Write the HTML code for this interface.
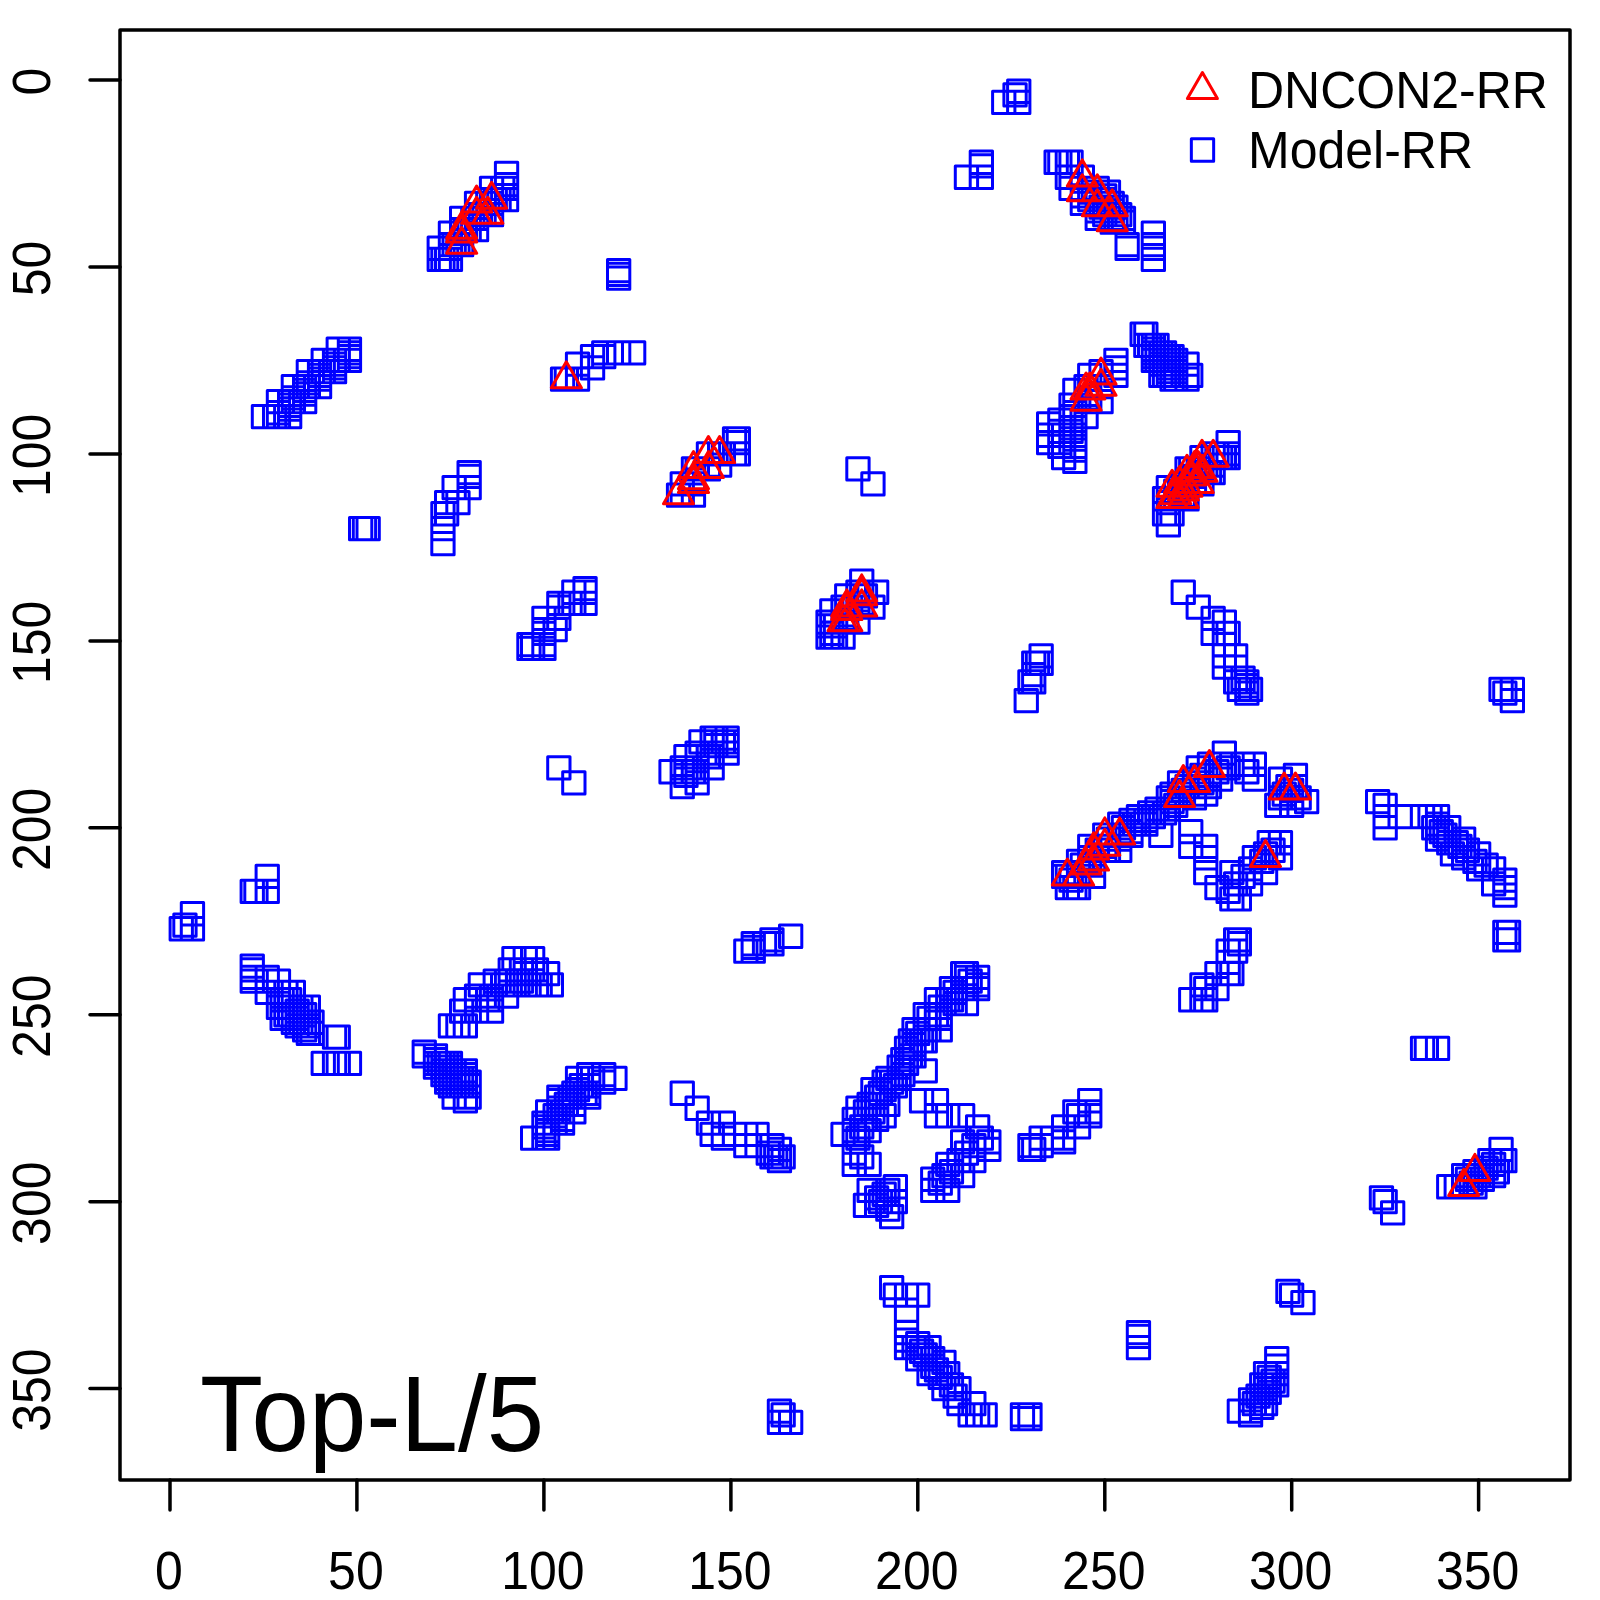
<!DOCTYPE html>
<html><head><meta charset="utf-8"><style>
html,body{margin:0;padding:0;background:#fff;width:1600px;height:1600px;overflow:hidden}
svg{display:block}
text{font-family:"Liberation Sans",sans-serif}
</style></head><body>
<svg width="1600" height="1600" viewBox="0 0 1600 1600">
<rect width="1600" height="1600" fill="#fff"/>
<g fill="none" stroke="#0000ff" stroke-width="3.0" stroke-linejoin="round">
<path d="M252.3 405.4h22.3v22.3h-22.3zM263.5 405.4h22.3v22.3h-22.3zM267.3 405.4h22.3v22.3h-22.3zM278.5 405.4h22.3v22.3h-22.3zM267.3 390.4h22.3v22.3h-22.3zM278.5 390.4h22.3v22.3h-22.3zM282.2 390.4h22.3v22.3h-22.3zM293.5 390.4h22.3v22.3h-22.3zM278.5 394.1h22.3v22.3h-22.3zM278.5 397.9h22.3v22.3h-22.3zM267.3 401.6h22.3v22.3h-22.3zM282.2 375.4h22.3v22.3h-22.3zM293.5 375.4h22.3v22.3h-22.3zM297.2 375.4h22.3v22.3h-22.3zM308.4 375.4h22.3v22.3h-22.3zM293.5 379.2h22.3v22.3h-22.3zM293.5 382.9h22.3v22.3h-22.3zM282.2 386.7h22.3v22.3h-22.3zM297.2 360.5h22.3v22.3h-22.3zM308.4 360.5h22.3v22.3h-22.3zM312.1 360.5h22.3v22.3h-22.3zM323.4 360.5h22.3v22.3h-22.3zM308.4 364.2h22.3v22.3h-22.3zM308.4 368.0h22.3v22.3h-22.3zM297.2 371.7h22.3v22.3h-22.3zM312.1 349.3h22.3v22.3h-22.3zM323.4 349.3h22.3v22.3h-22.3zM327.1 349.3h22.3v22.3h-22.3zM338.3 349.3h22.3v22.3h-22.3zM323.4 353.0h22.3v22.3h-22.3zM323.4 356.8h22.3v22.3h-22.3zM327.1 338.1h22.3v22.3h-22.3zM338.3 338.1h22.3v22.3h-22.3zM338.3 341.8h22.3v22.3h-22.3zM338.3 345.5h22.3v22.3h-22.3zM349.5 517.5h22.3v22.3h-22.3zM353.3 517.5h22.3v22.3h-22.3zM357.0 517.5h22.3v22.3h-22.3zM458.0 461.4h22.3v22.3h-22.3zM458.0 465.2h22.3v22.3h-22.3zM458.0 476.4h22.3v22.3h-22.3zM443.0 476.4h22.3v22.3h-22.3zM446.8 491.4h22.3v22.3h-22.3zM435.5 491.4h22.3v22.3h-22.3zM435.5 502.6h22.3v22.3h-22.3zM431.8 502.6h22.3v22.3h-22.3zM431.8 517.5h22.3v22.3h-22.3zM431.8 532.5h22.3v22.3h-22.3zM558.9 592.3h22.3v22.3h-22.3zM547.7 596.0h22.3v22.3h-22.3zM573.9 577.4h22.3v22.3h-22.3zM573.9 581.1h22.3v22.3h-22.3zM573.9 592.3h22.3v22.3h-22.3zM562.7 581.1h22.3v22.3h-22.3zM562.7 592.3h22.3v22.3h-22.3zM547.7 592.3h22.3v22.3h-22.3zM547.7 607.3h22.3v22.3h-22.3zM544.0 618.5h22.3v22.3h-22.3zM532.8 607.3h22.3v22.3h-22.3zM532.8 618.5h22.3v22.3h-22.3zM532.8 622.2h22.3v22.3h-22.3zM532.8 633.4h22.3v22.3h-22.3zM532.8 637.2h22.3v22.3h-22.3zM517.8 633.4h22.3v22.3h-22.3zM517.8 637.2h22.3v22.3h-22.3zM521.5 633.4h22.3v22.3h-22.3zM521.5 637.2h22.3v22.3h-22.3zM547.7 756.8h22.3v22.3h-22.3zM562.7 771.8h22.3v22.3h-22.3zM701.0 726.9h22.3v22.3h-22.3zM716.0 726.9h22.3v22.3h-22.3zM704.7 726.9h22.3v22.3h-22.3zM689.8 730.7h22.3v22.3h-22.3zM701.0 730.7h22.3v22.3h-22.3zM712.2 730.7h22.3v22.3h-22.3zM716.0 730.7h22.3v22.3h-22.3zM704.7 734.4h22.3v22.3h-22.3zM716.0 734.4h22.3v22.3h-22.3zM686.0 741.9h22.3v22.3h-22.3zM701.0 741.9h22.3v22.3h-22.3zM716.0 741.9h22.3v22.3h-22.3zM674.8 745.6h22.3v22.3h-22.3zM686.0 745.6h22.3v22.3h-22.3zM697.3 745.6h22.3v22.3h-22.3zM701.0 745.6h22.3v22.3h-22.3zM671.1 756.8h22.3v22.3h-22.3zM686.0 756.8h22.3v22.3h-22.3zM701.0 756.8h22.3v22.3h-22.3zM659.9 760.6h22.3v22.3h-22.3zM671.1 760.6h22.3v22.3h-22.3zM682.3 760.6h22.3v22.3h-22.3zM686.0 760.6h22.3v22.3h-22.3zM674.8 764.3h22.3v22.3h-22.3zM686.0 771.8h22.3v22.3h-22.3zM671.1 775.5h22.3v22.3h-22.3zM170.1 917.6h22.3v22.3h-22.3zM173.8 913.9h22.3v22.3h-22.3zM181.3 902.6h22.3v22.3h-22.3zM181.3 917.6h22.3v22.3h-22.3zM256.1 865.3h22.3v22.3h-22.3zM241.1 880.2h22.3v22.3h-22.3zM244.8 880.2h22.3v22.3h-22.3zM256.1 880.2h22.3v22.3h-22.3zM241.1 955.0h22.3v22.3h-22.3zM241.1 958.7h22.3v22.3h-22.3zM241.1 966.2h22.3v22.3h-22.3zM241.1 969.9h22.3v22.3h-22.3zM256.1 966.2h22.3v22.3h-22.3zM256.1 969.9h22.3v22.3h-22.3zM256.1 981.2h22.3v22.3h-22.3zM267.3 969.9h22.3v22.3h-22.3zM267.3 981.2h22.3v22.3h-22.3zM267.3 996.1h22.3v22.3h-22.3zM271.0 996.1h22.3v22.3h-22.3zM271.0 1007.3h22.3v22.3h-22.3zM282.2 981.2h22.3v22.3h-22.3zM282.2 996.1h22.3v22.3h-22.3zM282.2 1011.1h22.3v22.3h-22.3zM297.2 996.1h22.3v22.3h-22.3zM297.2 1011.1h22.3v22.3h-22.3zM297.2 1022.3h22.3v22.3h-22.3zM300.9 1011.1h22.3v22.3h-22.3zM300.9 1022.3h22.3v22.3h-22.3zM286.0 1007.3h22.3v22.3h-22.3zM286.0 999.9h22.3v22.3h-22.3zM323.4 1026.0h22.3v22.3h-22.3zM327.1 1026.0h22.3v22.3h-22.3zM312.1 1052.2h22.3v22.3h-22.3zM323.4 1052.2h22.3v22.3h-22.3zM327.1 1052.2h22.3v22.3h-22.3zM338.3 1052.2h22.3v22.3h-22.3zM274.8 981.2h22.3v22.3h-22.3zM271.0 988.6h22.3v22.3h-22.3zM278.5 988.6h22.3v22.3h-22.3zM274.8 996.1h22.3v22.3h-22.3zM289.7 996.1h22.3v22.3h-22.3zM278.5 1003.6h22.3v22.3h-22.3zM286.0 1003.6h22.3v22.3h-22.3zM293.5 1003.6h22.3v22.3h-22.3zM289.7 1011.1h22.3v22.3h-22.3zM293.5 1018.6h22.3v22.3h-22.3zM297.2 1014.8h22.3v22.3h-22.3zM293.5 1011.1h22.3v22.3h-22.3zM286.0 1014.8h22.3v22.3h-22.3zM274.8 1003.6h22.3v22.3h-22.3zM502.8 947.5h22.3v22.3h-22.3zM514.1 947.5h22.3v22.3h-22.3zM521.5 947.5h22.3v22.3h-22.3zM499.1 958.7h22.3v22.3h-22.3zM510.3 958.7h22.3v22.3h-22.3zM521.5 958.7h22.3v22.3h-22.3zM525.3 958.7h22.3v22.3h-22.3zM514.1 962.5h22.3v22.3h-22.3zM525.3 962.5h22.3v22.3h-22.3zM536.5 962.5h22.3v22.3h-22.3zM484.1 969.9h22.3v22.3h-22.3zM495.4 969.9h22.3v22.3h-22.3zM506.6 969.9h22.3v22.3h-22.3zM510.3 969.9h22.3v22.3h-22.3zM469.2 973.7h22.3v22.3h-22.3zM484.1 973.7h22.3v22.3h-22.3zM499.1 973.7h22.3v22.3h-22.3zM514.1 973.7h22.3v22.3h-22.3zM529.0 973.7h22.3v22.3h-22.3zM540.2 973.7h22.3v22.3h-22.3zM525.3 973.7h22.3v22.3h-22.3zM465.4 984.9h22.3v22.3h-22.3zM480.4 984.9h22.3v22.3h-22.3zM495.4 984.9h22.3v22.3h-22.3zM454.2 988.6h22.3v22.3h-22.3zM465.4 988.6h22.3v22.3h-22.3zM476.7 988.6h22.3v22.3h-22.3zM480.4 988.6h22.3v22.3h-22.3zM450.5 999.9h22.3v22.3h-22.3zM465.4 999.9h22.3v22.3h-22.3zM480.4 999.9h22.3v22.3h-22.3zM439.3 1014.8h22.3v22.3h-22.3zM446.8 1014.8h22.3v22.3h-22.3zM454.2 1014.8h22.3v22.3h-22.3zM413.1 1041.0h22.3v22.3h-22.3zM413.1 1044.7h22.3v22.3h-22.3zM424.3 1044.7h22.3v22.3h-22.3zM424.3 1048.5h22.3v22.3h-22.3zM424.3 1052.2h22.3v22.3h-22.3zM428.1 1052.2h22.3v22.3h-22.3zM431.8 1052.2h22.3v22.3h-22.3zM435.5 1052.2h22.3v22.3h-22.3zM439.3 1052.2h22.3v22.3h-22.3zM424.3 1055.9h22.3v22.3h-22.3zM431.8 1055.9h22.3v22.3h-22.3zM439.3 1055.9h22.3v22.3h-22.3zM431.8 1059.7h22.3v22.3h-22.3zM435.5 1059.7h22.3v22.3h-22.3zM439.3 1059.7h22.3v22.3h-22.3zM443.0 1059.7h22.3v22.3h-22.3zM454.2 1059.7h22.3v22.3h-22.3zM431.8 1063.4h22.3v22.3h-22.3zM435.5 1063.4h22.3v22.3h-22.3zM439.3 1063.4h22.3v22.3h-22.3zM443.0 1063.4h22.3v22.3h-22.3zM454.2 1063.4h22.3v22.3h-22.3zM435.5 1067.2h22.3v22.3h-22.3zM439.3 1067.2h22.3v22.3h-22.3zM443.0 1067.2h22.3v22.3h-22.3zM446.8 1067.2h22.3v22.3h-22.3zM450.5 1067.2h22.3v22.3h-22.3zM454.2 1067.2h22.3v22.3h-22.3zM435.5 1070.9h22.3v22.3h-22.3zM443.0 1070.9h22.3v22.3h-22.3zM450.5 1070.9h22.3v22.3h-22.3zM458.0 1070.9h22.3v22.3h-22.3zM439.3 1074.6h22.3v22.3h-22.3zM443.0 1074.6h22.3v22.3h-22.3zM446.8 1074.6h22.3v22.3h-22.3zM450.5 1074.6h22.3v22.3h-22.3zM454.2 1074.6h22.3v22.3h-22.3zM458.0 1074.6h22.3v22.3h-22.3zM443.0 1085.9h22.3v22.3h-22.3zM458.0 1085.9h22.3v22.3h-22.3zM454.2 1089.6h22.3v22.3h-22.3zM521.5 1127.0h22.3v22.3h-22.3zM532.8 1127.0h22.3v22.3h-22.3zM536.5 1127.0h22.3v22.3h-22.3zM532.8 1112.0h22.3v22.3h-22.3zM532.8 1115.8h22.3v22.3h-22.3zM544.0 1112.0h22.3v22.3h-22.3zM551.4 1112.0h22.3v22.3h-22.3zM536.5 1123.2h22.3v22.3h-22.3zM536.5 1119.5h22.3v22.3h-22.3zM536.5 1100.8h22.3v22.3h-22.3zM547.7 1100.8h22.3v22.3h-22.3zM551.4 1100.8h22.3v22.3h-22.3zM562.7 1100.8h22.3v22.3h-22.3zM551.4 1108.3h22.3v22.3h-22.3zM544.0 1104.6h22.3v22.3h-22.3zM547.7 1085.9h22.3v22.3h-22.3zM547.7 1089.6h22.3v22.3h-22.3zM558.9 1085.9h22.3v22.3h-22.3zM562.7 1085.9h22.3v22.3h-22.3zM577.6 1085.9h22.3v22.3h-22.3zM547.7 1097.1h22.3v22.3h-22.3zM555.2 1093.3h22.3v22.3h-22.3zM562.7 1093.3h22.3v22.3h-22.3zM562.7 1082.1h22.3v22.3h-22.3zM573.9 1082.1h22.3v22.3h-22.3zM577.6 1082.1h22.3v22.3h-22.3zM570.1 1074.6h22.3v22.3h-22.3zM577.6 1074.6h22.3v22.3h-22.3zM566.4 1067.2h22.3v22.3h-22.3zM577.6 1067.2h22.3v22.3h-22.3zM581.4 1067.2h22.3v22.3h-22.3zM592.6 1067.2h22.3v22.3h-22.3zM566.4 1078.4h22.3v22.3h-22.3zM577.6 1063.4h22.3v22.3h-22.3zM592.6 1063.4h22.3v22.3h-22.3zM592.6 1070.9h22.3v22.3h-22.3zM603.8 1067.2h22.3v22.3h-22.3zM779.5 925.1h22.3v22.3h-22.3zM760.8 928.8h22.3v22.3h-22.3zM760.8 932.6h22.3v22.3h-22.3zM753.4 932.6h22.3v22.3h-22.3zM742.1 932.6h22.3v22.3h-22.3zM742.1 936.3h22.3v22.3h-22.3zM742.1 940.0h22.3v22.3h-22.3zM734.7 940.0h22.3v22.3h-22.3zM671.1 1082.1h22.3v22.3h-22.3zM686.0 1097.1h22.3v22.3h-22.3zM697.3 1112.0h22.3v22.3h-22.3zM712.2 1112.0h22.3v22.3h-22.3zM701.0 1123.2h22.3v22.3h-22.3zM712.2 1127.0h22.3v22.3h-22.3zM723.4 1123.2h22.3v22.3h-22.3zM734.7 1123.2h22.3v22.3h-22.3zM745.9 1123.2h22.3v22.3h-22.3zM734.7 1134.5h22.3v22.3h-22.3zM745.9 1134.5h22.3v22.3h-22.3zM757.1 1141.9h22.3v22.3h-22.3zM760.8 1134.5h22.3v22.3h-22.3zM768.3 1138.2h22.3v22.3h-22.3zM772.0 1145.7h22.3v22.3h-22.3zM768.3 1149.4h22.3v22.3h-22.3zM760.8 1141.9h22.3v22.3h-22.3zM764.6 1145.7h22.3v22.3h-22.3zM760.8 1145.7h22.3v22.3h-22.3zM951.5 962.5h22.3v22.3h-22.3zM955.3 962.5h22.3v22.3h-22.3zM966.5 966.2h22.3v22.3h-22.3zM955.3 966.2h22.3v22.3h-22.3zM966.5 973.7h22.3v22.3h-22.3zM940.3 977.4h22.3v22.3h-22.3zM951.5 977.4h22.3v22.3h-22.3zM955.3 977.4h22.3v22.3h-22.3zM966.5 977.4h22.3v22.3h-22.3zM955.3 992.4h22.3v22.3h-22.3zM944.0 981.2h22.3v22.3h-22.3zM959.0 969.9h22.3v22.3h-22.3zM925.3 988.6h22.3v22.3h-22.3zM936.6 988.6h22.3v22.3h-22.3zM940.3 988.6h22.3v22.3h-22.3zM929.1 996.1h22.3v22.3h-22.3zM944.0 992.4h22.3v22.3h-22.3zM914.1 1003.6h22.3v22.3h-22.3zM925.3 1003.6h22.3v22.3h-22.3zM929.1 1003.6h22.3v22.3h-22.3zM929.1 1007.3h22.3v22.3h-22.3zM917.9 1007.3h22.3v22.3h-22.3zM929.1 1018.6h22.3v22.3h-22.3zM902.9 1018.6h22.3v22.3h-22.3zM914.1 1018.6h22.3v22.3h-22.3zM917.9 1018.6h22.3v22.3h-22.3zM906.6 1022.3h22.3v22.3h-22.3zM899.2 1029.8h22.3v22.3h-22.3zM910.4 1029.8h22.3v22.3h-22.3zM914.1 1029.8h22.3v22.3h-22.3zM895.4 1037.3h22.3v22.3h-22.3zM902.9 1033.5h22.3v22.3h-22.3zM888.0 1055.9h22.3v22.3h-22.3zM891.7 1048.5h22.3v22.3h-22.3zM899.2 1044.7h22.3v22.3h-22.3zM895.4 1052.2h22.3v22.3h-22.3zM876.7 1067.2h22.3v22.3h-22.3zM888.0 1067.2h22.3v22.3h-22.3zM891.7 1063.4h22.3v22.3h-22.3zM884.2 1074.6h22.3v22.3h-22.3zM880.5 1070.9h22.3v22.3h-22.3zM873.0 1070.9h22.3v22.3h-22.3zM861.8 1078.4h22.3v22.3h-22.3zM873.0 1078.4h22.3v22.3h-22.3zM865.5 1085.9h22.3v22.3h-22.3zM869.3 1082.1h22.3v22.3h-22.3zM876.7 1093.3h22.3v22.3h-22.3zM858.0 1093.3h22.3v22.3h-22.3zM846.8 1097.1h22.3v22.3h-22.3zM854.3 1100.8h22.3v22.3h-22.3zM861.8 1100.8h22.3v22.3h-22.3zM873.0 1104.6h22.3v22.3h-22.3zM865.5 1108.3h22.3v22.3h-22.3zM854.3 1108.3h22.3v22.3h-22.3zM843.1 1108.3h22.3v22.3h-22.3zM843.1 1119.5h22.3v22.3h-22.3zM858.0 1119.5h22.3v22.3h-22.3zM850.6 1115.8h22.3v22.3h-22.3zM831.9 1123.2h22.3v22.3h-22.3zM843.1 1123.2h22.3v22.3h-22.3zM846.8 1127.0h22.3v22.3h-22.3zM843.1 1141.9h22.3v22.3h-22.3zM843.1 1153.2h22.3v22.3h-22.3zM858.0 1153.2h22.3v22.3h-22.3zM850.6 1145.7h22.3v22.3h-22.3zM858.0 1179.3h22.3v22.3h-22.3zM854.3 1194.3h22.3v22.3h-22.3zM865.5 1186.8h22.3v22.3h-22.3zM865.5 1194.3h22.3v22.3h-22.3zM869.3 1190.5h22.3v22.3h-22.3zM873.0 1183.1h22.3v22.3h-22.3zM876.7 1198.0h22.3v22.3h-22.3zM884.2 1175.6h22.3v22.3h-22.3zM884.2 1190.5h22.3v22.3h-22.3zM880.5 1205.5h22.3v22.3h-22.3zM876.7 1179.3h22.3v22.3h-22.3zM914.1 1059.7h22.3v22.3h-22.3zM902.9 1044.7h22.3v22.3h-22.3zM910.4 1089.6h22.3v22.3h-22.3zM925.3 1089.6h22.3v22.3h-22.3zM925.3 1104.6h22.3v22.3h-22.3zM936.6 1104.6h22.3v22.3h-22.3zM951.5 1104.6h22.3v22.3h-22.3zM966.5 1115.8h22.3v22.3h-22.3zM977.7 1130.7h22.3v22.3h-22.3zM977.7 1138.2h22.3v22.3h-22.3zM970.2 1127.0h22.3v22.3h-22.3zM951.5 1130.7h22.3v22.3h-22.3zM962.7 1134.5h22.3v22.3h-22.3zM962.7 1149.4h22.3v22.3h-22.3zM947.8 1149.4h22.3v22.3h-22.3zM955.3 1141.9h22.3v22.3h-22.3zM936.6 1153.2h22.3v22.3h-22.3zM951.5 1164.4h22.3v22.3h-22.3zM940.3 1160.6h22.3v22.3h-22.3zM932.8 1164.4h22.3v22.3h-22.3zM921.6 1168.1h22.3v22.3h-22.3zM929.1 1171.9h22.3v22.3h-22.3zM936.6 1179.3h22.3v22.3h-22.3zM921.6 1179.3h22.3v22.3h-22.3zM1078.6 1089.6h22.3v22.3h-22.3zM1078.6 1100.8h22.3v22.3h-22.3zM1078.6 1104.6h22.3v22.3h-22.3zM1063.7 1100.8h22.3v22.3h-22.3zM1067.4 1104.6h22.3v22.3h-22.3zM1067.4 1115.8h22.3v22.3h-22.3zM1052.5 1115.8h22.3v22.3h-22.3zM1052.5 1127.0h22.3v22.3h-22.3zM1052.5 1130.7h22.3v22.3h-22.3zM1041.3 1127.0h22.3v22.3h-22.3zM1030.0 1127.0h22.3v22.3h-22.3zM1030.0 1134.5h22.3v22.3h-22.3zM1018.8 1134.5h22.3v22.3h-22.3zM1018.8 1138.2h22.3v22.3h-22.3zM1022.6 1138.2h22.3v22.3h-22.3zM880.5 1276.5h22.3v22.3h-22.3zM884.2 1284.0h22.3v22.3h-22.3zM895.4 1284.0h22.3v22.3h-22.3zM906.6 1284.0h22.3v22.3h-22.3zM895.4 1299.0h22.3v22.3h-22.3zM895.4 1321.4h22.3v22.3h-22.3zM895.4 1328.9h22.3v22.3h-22.3zM895.4 1336.4h22.3v22.3h-22.3zM906.6 1332.6h22.3v22.3h-22.3zM902.9 1336.4h22.3v22.3h-22.3zM917.9 1336.4h22.3v22.3h-22.3zM906.6 1347.6h22.3v22.3h-22.3zM914.1 1343.8h22.3v22.3h-22.3zM921.6 1347.6h22.3v22.3h-22.3zM932.8 1351.3h22.3v22.3h-22.3zM917.9 1362.5h22.3v22.3h-22.3zM925.3 1358.8h22.3v22.3h-22.3zM936.6 1362.5h22.3v22.3h-22.3zM932.8 1377.5h22.3v22.3h-22.3zM940.3 1373.8h22.3v22.3h-22.3zM947.8 1377.5h22.3v22.3h-22.3zM947.8 1392.5h22.3v22.3h-22.3zM962.7 1392.5h22.3v22.3h-22.3zM959.0 1403.7h22.3v22.3h-22.3zM966.5 1403.7h22.3v22.3h-22.3zM974.0 1403.7h22.3v22.3h-22.3zM910.4 1340.1h22.3v22.3h-22.3zM929.1 1366.3h22.3v22.3h-22.3zM944.0 1385.0h22.3v22.3h-22.3zM921.6 1355.1h22.3v22.3h-22.3zM768.3 1399.9h22.3v22.3h-22.3zM772.0 1403.7h22.3v22.3h-22.3zM779.5 1411.2h22.3v22.3h-22.3zM768.3 1411.2h22.3v22.3h-22.3zM1011.3 1403.7h22.3v22.3h-22.3zM1011.3 1407.4h22.3v22.3h-22.3zM1018.8 1403.7h22.3v22.3h-22.3zM1018.8 1407.4h22.3v22.3h-22.3zM1127.3 1321.4h22.3v22.3h-22.3zM1127.3 1325.2h22.3v22.3h-22.3zM1127.3 1336.4h22.3v22.3h-22.3zM1276.8 1280.3h22.3v22.3h-22.3zM1280.5 1284.0h22.3v22.3h-22.3zM1291.8 1291.5h22.3v22.3h-22.3zM1265.6 1347.6h22.3v22.3h-22.3zM1265.6 1355.1h22.3v22.3h-22.3zM1265.6 1362.5h22.3v22.3h-22.3zM1265.6 1373.8h22.3v22.3h-22.3zM1254.4 1362.5h22.3v22.3h-22.3zM1258.1 1366.3h22.3v22.3h-22.3zM1261.9 1370.0h22.3v22.3h-22.3zM1250.6 1373.8h22.3v22.3h-22.3zM1254.4 1377.5h22.3v22.3h-22.3zM1258.1 1381.2h22.3v22.3h-22.3zM1254.4 1392.5h22.3v22.3h-22.3zM1239.4 1388.7h22.3v22.3h-22.3zM1246.9 1385.0h22.3v22.3h-22.3zM1250.6 1396.2h22.3v22.3h-22.3zM1243.2 1392.5h22.3v22.3h-22.3zM1228.2 1399.9h22.3v22.3h-22.3zM1239.4 1399.9h22.3v22.3h-22.3zM1239.4 1403.7h22.3v22.3h-22.3zM495.4 162.3h22.3v22.3h-22.3zM495.4 173.5h22.3v22.3h-22.3zM495.4 177.3h22.3v22.3h-22.3zM495.4 188.5h22.3v22.3h-22.3zM480.4 177.3h22.3v22.3h-22.3zM480.4 188.5h22.3v22.3h-22.3zM480.4 192.2h22.3v22.3h-22.3zM480.4 203.5h22.3v22.3h-22.3zM484.1 188.5h22.3v22.3h-22.3zM487.9 188.5h22.3v22.3h-22.3zM491.6 177.3h22.3v22.3h-22.3zM465.4 192.2h22.3v22.3h-22.3zM465.4 203.5h22.3v22.3h-22.3zM465.4 207.2h22.3v22.3h-22.3zM465.4 218.4h22.3v22.3h-22.3zM469.2 203.5h22.3v22.3h-22.3zM472.9 203.5h22.3v22.3h-22.3zM476.7 192.2h22.3v22.3h-22.3zM450.5 207.2h22.3v22.3h-22.3zM450.5 218.4h22.3v22.3h-22.3zM450.5 222.1h22.3v22.3h-22.3zM450.5 233.4h22.3v22.3h-22.3zM454.2 218.4h22.3v22.3h-22.3zM458.0 218.4h22.3v22.3h-22.3zM461.7 207.2h22.3v22.3h-22.3zM439.3 222.1h22.3v22.3h-22.3zM439.3 233.4h22.3v22.3h-22.3zM439.3 237.1h22.3v22.3h-22.3zM439.3 248.3h22.3v22.3h-22.3zM443.0 233.4h22.3v22.3h-22.3zM446.8 233.4h22.3v22.3h-22.3zM428.1 237.1h22.3v22.3h-22.3zM428.1 248.3h22.3v22.3h-22.3zM431.8 248.3h22.3v22.3h-22.3zM435.5 248.3h22.3v22.3h-22.3zM607.5 259.5h22.3v22.3h-22.3zM607.5 263.3h22.3v22.3h-22.3zM607.5 267.0h22.3v22.3h-22.3zM551.4 368.0h22.3v22.3h-22.3zM555.2 368.0h22.3v22.3h-22.3zM566.4 368.0h22.3v22.3h-22.3zM566.4 353.0h22.3v22.3h-22.3zM581.4 356.8h22.3v22.3h-22.3zM581.4 345.5h22.3v22.3h-22.3zM592.6 345.5h22.3v22.3h-22.3zM592.6 341.8h22.3v22.3h-22.3zM607.5 341.8h22.3v22.3h-22.3zM622.5 341.8h22.3v22.3h-22.3zM682.3 468.9h22.3v22.3h-22.3zM686.0 457.7h22.3v22.3h-22.3zM667.4 483.9h22.3v22.3h-22.3zM671.1 483.9h22.3v22.3h-22.3zM682.3 483.9h22.3v22.3h-22.3zM671.1 472.7h22.3v22.3h-22.3zM682.3 472.7h22.3v22.3h-22.3zM682.3 457.7h22.3v22.3h-22.3zM697.3 457.7h22.3v22.3h-22.3zM708.5 454.0h22.3v22.3h-22.3zM697.3 442.8h22.3v22.3h-22.3zM708.5 442.8h22.3v22.3h-22.3zM712.2 442.8h22.3v22.3h-22.3zM723.4 442.8h22.3v22.3h-22.3zM727.2 442.8h22.3v22.3h-22.3zM723.4 427.8h22.3v22.3h-22.3zM727.2 427.8h22.3v22.3h-22.3zM723.4 431.5h22.3v22.3h-22.3zM727.2 431.5h22.3v22.3h-22.3zM846.8 457.7h22.3v22.3h-22.3zM861.8 472.7h22.3v22.3h-22.3zM816.9 611.0h22.3v22.3h-22.3zM816.9 626.0h22.3v22.3h-22.3zM816.9 614.7h22.3v22.3h-22.3zM820.7 599.8h22.3v22.3h-22.3zM820.7 611.0h22.3v22.3h-22.3zM820.7 622.2h22.3v22.3h-22.3zM820.7 626.0h22.3v22.3h-22.3zM824.4 614.7h22.3v22.3h-22.3zM824.4 626.0h22.3v22.3h-22.3zM831.9 596.0h22.3v22.3h-22.3zM831.9 611.0h22.3v22.3h-22.3zM831.9 626.0h22.3v22.3h-22.3zM835.6 584.8h22.3v22.3h-22.3zM835.6 596.0h22.3v22.3h-22.3zM835.6 607.3h22.3v22.3h-22.3zM835.6 611.0h22.3v22.3h-22.3zM846.8 581.1h22.3v22.3h-22.3zM846.8 596.0h22.3v22.3h-22.3zM846.8 611.0h22.3v22.3h-22.3zM850.6 569.9h22.3v22.3h-22.3zM850.6 581.1h22.3v22.3h-22.3zM850.6 592.3h22.3v22.3h-22.3zM850.6 596.0h22.3v22.3h-22.3zM854.3 584.8h22.3v22.3h-22.3zM861.8 596.0h22.3v22.3h-22.3zM865.5 581.1h22.3v22.3h-22.3zM1007.6 80.1h22.3v22.3h-22.3zM1003.9 83.8h22.3v22.3h-22.3zM992.6 91.3h22.3v22.3h-22.3zM1007.6 91.3h22.3v22.3h-22.3zM955.3 166.1h22.3v22.3h-22.3zM970.2 151.1h22.3v22.3h-22.3zM970.2 154.8h22.3v22.3h-22.3zM970.2 166.1h22.3v22.3h-22.3zM1045.0 151.1h22.3v22.3h-22.3zM1048.7 151.1h22.3v22.3h-22.3zM1056.2 151.1h22.3v22.3h-22.3zM1059.9 151.1h22.3v22.3h-22.3zM1056.2 166.1h22.3v22.3h-22.3zM1059.9 166.1h22.3v22.3h-22.3zM1071.2 166.1h22.3v22.3h-22.3zM1059.9 177.3h22.3v22.3h-22.3zM1071.2 177.3h22.3v22.3h-22.3zM1086.1 177.3h22.3v22.3h-22.3zM1086.1 181.0h22.3v22.3h-22.3zM1097.3 181.0h22.3v22.3h-22.3zM1071.2 192.2h22.3v22.3h-22.3zM1086.1 192.2h22.3v22.3h-22.3zM1101.1 192.2h22.3v22.3h-22.3zM1086.1 207.2h22.3v22.3h-22.3zM1101.1 207.2h22.3v22.3h-22.3zM1112.3 207.2h22.3v22.3h-22.3zM1101.1 210.9h22.3v22.3h-22.3zM1112.3 210.9h22.3v22.3h-22.3zM1097.3 196.0h22.3v22.3h-22.3zM1089.9 196.0h22.3v22.3h-22.3zM1116.0 233.4h22.3v22.3h-22.3zM1116.0 237.1h22.3v22.3h-22.3zM1142.2 222.1h22.3v22.3h-22.3zM1142.2 233.4h22.3v22.3h-22.3zM1142.2 237.1h22.3v22.3h-22.3zM1142.2 248.3h22.3v22.3h-22.3zM1071.2 184.8h22.3v22.3h-22.3zM1078.6 181.0h22.3v22.3h-22.3zM1078.6 188.5h22.3v22.3h-22.3zM1086.1 184.8h22.3v22.3h-22.3zM1086.1 199.7h22.3v22.3h-22.3zM1093.6 188.5h22.3v22.3h-22.3zM1093.6 196.0h22.3v22.3h-22.3zM1093.6 203.5h22.3v22.3h-22.3zM1101.1 199.7h22.3v22.3h-22.3zM1108.6 203.5h22.3v22.3h-22.3zM1104.8 207.2h22.3v22.3h-22.3zM1101.1 203.5h22.3v22.3h-22.3zM1104.8 196.0h22.3v22.3h-22.3zM1093.6 184.8h22.3v22.3h-22.3zM1037.5 412.8h22.3v22.3h-22.3zM1037.5 424.1h22.3v22.3h-22.3zM1037.5 431.5h22.3v22.3h-22.3zM1048.7 409.1h22.3v22.3h-22.3zM1048.7 420.3h22.3v22.3h-22.3zM1048.7 431.5h22.3v22.3h-22.3zM1048.7 435.3h22.3v22.3h-22.3zM1052.5 424.1h22.3v22.3h-22.3zM1052.5 435.3h22.3v22.3h-22.3zM1052.5 446.5h22.3v22.3h-22.3zM1059.9 394.1h22.3v22.3h-22.3zM1059.9 405.4h22.3v22.3h-22.3zM1059.9 416.6h22.3v22.3h-22.3zM1059.9 420.3h22.3v22.3h-22.3zM1063.7 379.2h22.3v22.3h-22.3zM1063.7 394.1h22.3v22.3h-22.3zM1063.7 409.1h22.3v22.3h-22.3zM1063.7 424.1h22.3v22.3h-22.3zM1063.7 439.0h22.3v22.3h-22.3zM1063.7 450.2h22.3v22.3h-22.3zM1063.7 435.3h22.3v22.3h-22.3zM1074.9 375.4h22.3v22.3h-22.3zM1074.9 390.4h22.3v22.3h-22.3zM1074.9 405.4h22.3v22.3h-22.3zM1078.6 364.2h22.3v22.3h-22.3zM1078.6 375.4h22.3v22.3h-22.3zM1078.6 386.7h22.3v22.3h-22.3zM1078.6 390.4h22.3v22.3h-22.3zM1089.9 360.5h22.3v22.3h-22.3zM1089.9 375.4h22.3v22.3h-22.3zM1089.9 390.4h22.3v22.3h-22.3zM1104.8 349.3h22.3v22.3h-22.3zM1104.8 356.8h22.3v22.3h-22.3zM1104.8 364.2h22.3v22.3h-22.3zM1131.0 323.1h22.3v22.3h-22.3zM1134.7 323.1h22.3v22.3h-22.3zM1134.7 334.3h22.3v22.3h-22.3zM1138.5 334.3h22.3v22.3h-22.3zM1142.2 334.3h22.3v22.3h-22.3zM1142.2 338.1h22.3v22.3h-22.3zM1142.2 341.8h22.3v22.3h-22.3zM1142.2 345.5h22.3v22.3h-22.3zM1142.2 349.3h22.3v22.3h-22.3zM1145.9 334.3h22.3v22.3h-22.3zM1145.9 341.8h22.3v22.3h-22.3zM1145.9 349.3h22.3v22.3h-22.3zM1149.7 341.8h22.3v22.3h-22.3zM1149.7 345.5h22.3v22.3h-22.3zM1149.7 349.3h22.3v22.3h-22.3zM1149.7 353.0h22.3v22.3h-22.3zM1149.7 364.2h22.3v22.3h-22.3zM1153.4 341.8h22.3v22.3h-22.3zM1153.4 345.5h22.3v22.3h-22.3zM1153.4 349.3h22.3v22.3h-22.3zM1153.4 353.0h22.3v22.3h-22.3zM1153.4 364.2h22.3v22.3h-22.3zM1157.2 345.5h22.3v22.3h-22.3zM1157.2 349.3h22.3v22.3h-22.3zM1157.2 353.0h22.3v22.3h-22.3zM1157.2 356.8h22.3v22.3h-22.3zM1157.2 360.5h22.3v22.3h-22.3zM1157.2 364.2h22.3v22.3h-22.3zM1160.9 345.5h22.3v22.3h-22.3zM1160.9 353.0h22.3v22.3h-22.3zM1160.9 360.5h22.3v22.3h-22.3zM1160.9 368.0h22.3v22.3h-22.3zM1164.6 349.3h22.3v22.3h-22.3zM1164.6 353.0h22.3v22.3h-22.3zM1164.6 356.8h22.3v22.3h-22.3zM1164.6 360.5h22.3v22.3h-22.3zM1164.6 364.2h22.3v22.3h-22.3zM1164.6 368.0h22.3v22.3h-22.3zM1175.9 353.0h22.3v22.3h-22.3zM1175.9 368.0h22.3v22.3h-22.3zM1179.6 364.2h22.3v22.3h-22.3zM1217.0 431.5h22.3v22.3h-22.3zM1217.0 442.8h22.3v22.3h-22.3zM1217.0 446.5h22.3v22.3h-22.3zM1202.0 442.8h22.3v22.3h-22.3zM1205.8 442.8h22.3v22.3h-22.3zM1202.0 454.0h22.3v22.3h-22.3zM1202.0 461.4h22.3v22.3h-22.3zM1213.2 446.5h22.3v22.3h-22.3zM1209.5 446.5h22.3v22.3h-22.3zM1190.8 446.5h22.3v22.3h-22.3zM1190.8 457.7h22.3v22.3h-22.3zM1190.8 461.4h22.3v22.3h-22.3zM1190.8 472.7h22.3v22.3h-22.3zM1198.3 461.4h22.3v22.3h-22.3zM1194.6 454.0h22.3v22.3h-22.3zM1175.9 457.7h22.3v22.3h-22.3zM1179.6 457.7h22.3v22.3h-22.3zM1175.9 468.9h22.3v22.3h-22.3zM1175.9 472.7h22.3v22.3h-22.3zM1175.9 487.6h22.3v22.3h-22.3zM1187.1 457.7h22.3v22.3h-22.3zM1183.3 465.2h22.3v22.3h-22.3zM1183.3 472.7h22.3v22.3h-22.3zM1172.1 472.7h22.3v22.3h-22.3zM1172.1 483.9h22.3v22.3h-22.3zM1172.1 487.6h22.3v22.3h-22.3zM1164.6 480.1h22.3v22.3h-22.3zM1164.6 487.6h22.3v22.3h-22.3zM1157.2 476.4h22.3v22.3h-22.3zM1157.2 487.6h22.3v22.3h-22.3zM1157.2 491.4h22.3v22.3h-22.3zM1157.2 502.6h22.3v22.3h-22.3zM1168.4 476.4h22.3v22.3h-22.3zM1153.4 487.6h22.3v22.3h-22.3zM1153.4 502.6h22.3v22.3h-22.3zM1160.9 502.6h22.3v22.3h-22.3zM1157.2 513.8h22.3v22.3h-22.3zM1015.1 689.5h22.3v22.3h-22.3zM1018.8 670.8h22.3v22.3h-22.3zM1022.6 670.8h22.3v22.3h-22.3zM1022.6 663.4h22.3v22.3h-22.3zM1022.6 652.1h22.3v22.3h-22.3zM1026.3 652.1h22.3v22.3h-22.3zM1030.0 652.1h22.3v22.3h-22.3zM1030.0 644.7h22.3v22.3h-22.3zM1172.1 581.1h22.3v22.3h-22.3zM1187.1 596.0h22.3v22.3h-22.3zM1202.0 607.3h22.3v22.3h-22.3zM1202.0 622.2h22.3v22.3h-22.3zM1213.2 611.0h22.3v22.3h-22.3zM1217.0 622.2h22.3v22.3h-22.3zM1213.2 633.4h22.3v22.3h-22.3zM1213.2 644.7h22.3v22.3h-22.3zM1213.2 655.9h22.3v22.3h-22.3zM1224.5 644.7h22.3v22.3h-22.3zM1224.5 655.9h22.3v22.3h-22.3zM1231.9 667.1h22.3v22.3h-22.3zM1224.5 670.8h22.3v22.3h-22.3zM1228.2 678.3h22.3v22.3h-22.3zM1235.7 682.0h22.3v22.3h-22.3zM1239.4 678.3h22.3v22.3h-22.3zM1231.9 670.8h22.3v22.3h-22.3zM1235.7 674.6h22.3v22.3h-22.3zM1235.7 670.8h22.3v22.3h-22.3zM1052.5 861.5h22.3v22.3h-22.3zM1052.5 865.3h22.3v22.3h-22.3zM1056.2 876.5h22.3v22.3h-22.3zM1056.2 865.3h22.3v22.3h-22.3zM1063.7 876.5h22.3v22.3h-22.3zM1067.4 850.3h22.3v22.3h-22.3zM1067.4 861.5h22.3v22.3h-22.3zM1067.4 865.3h22.3v22.3h-22.3zM1067.4 876.5h22.3v22.3h-22.3zM1082.4 865.3h22.3v22.3h-22.3zM1071.2 854.0h22.3v22.3h-22.3zM1059.9 869.0h22.3v22.3h-22.3zM1078.6 835.3h22.3v22.3h-22.3zM1078.6 846.6h22.3v22.3h-22.3zM1078.6 850.3h22.3v22.3h-22.3zM1086.1 839.1h22.3v22.3h-22.3zM1082.4 854.0h22.3v22.3h-22.3zM1093.6 824.1h22.3v22.3h-22.3zM1093.6 835.3h22.3v22.3h-22.3zM1093.6 839.1h22.3v22.3h-22.3zM1097.3 839.1h22.3v22.3h-22.3zM1097.3 827.9h22.3v22.3h-22.3zM1108.6 839.1h22.3v22.3h-22.3zM1108.6 812.9h22.3v22.3h-22.3zM1108.6 824.1h22.3v22.3h-22.3zM1108.6 827.9h22.3v22.3h-22.3zM1112.3 816.6h22.3v22.3h-22.3zM1119.8 809.2h22.3v22.3h-22.3zM1119.8 820.4h22.3v22.3h-22.3zM1119.8 824.1h22.3v22.3h-22.3zM1127.3 805.4h22.3v22.3h-22.3zM1123.5 812.9h22.3v22.3h-22.3zM1145.9 798.0h22.3v22.3h-22.3zM1138.5 801.7h22.3v22.3h-22.3zM1134.7 809.2h22.3v22.3h-22.3zM1142.2 805.4h22.3v22.3h-22.3zM1157.2 786.7h22.3v22.3h-22.3zM1157.2 798.0h22.3v22.3h-22.3zM1153.4 801.7h22.3v22.3h-22.3zM1164.6 794.2h22.3v22.3h-22.3zM1160.9 790.5h22.3v22.3h-22.3zM1160.9 783.0h22.3v22.3h-22.3zM1168.4 771.8h22.3v22.3h-22.3zM1168.4 783.0h22.3v22.3h-22.3zM1175.9 775.5h22.3v22.3h-22.3zM1172.1 779.3h22.3v22.3h-22.3zM1183.3 786.7h22.3v22.3h-22.3zM1183.3 768.0h22.3v22.3h-22.3zM1187.1 756.8h22.3v22.3h-22.3zM1190.8 764.3h22.3v22.3h-22.3zM1190.8 771.8h22.3v22.3h-22.3zM1194.6 783.0h22.3v22.3h-22.3zM1198.3 775.5h22.3v22.3h-22.3zM1198.3 764.3h22.3v22.3h-22.3zM1198.3 753.1h22.3v22.3h-22.3zM1209.5 753.1h22.3v22.3h-22.3zM1209.5 768.0h22.3v22.3h-22.3zM1205.8 760.6h22.3v22.3h-22.3zM1213.2 741.9h22.3v22.3h-22.3zM1213.2 753.1h22.3v22.3h-22.3zM1217.0 756.8h22.3v22.3h-22.3zM1231.9 753.1h22.3v22.3h-22.3zM1243.2 753.1h22.3v22.3h-22.3zM1243.2 768.0h22.3v22.3h-22.3zM1235.7 760.6h22.3v22.3h-22.3zM1269.3 768.0h22.3v22.3h-22.3zM1284.3 764.3h22.3v22.3h-22.3zM1276.8 775.5h22.3v22.3h-22.3zM1284.3 775.5h22.3v22.3h-22.3zM1280.5 779.3h22.3v22.3h-22.3zM1273.1 783.0h22.3v22.3h-22.3zM1288.0 786.7h22.3v22.3h-22.3zM1265.6 794.2h22.3v22.3h-22.3zM1280.5 794.2h22.3v22.3h-22.3zM1295.5 790.5h22.3v22.3h-22.3zM1269.3 786.7h22.3v22.3h-22.3zM1149.7 824.1h22.3v22.3h-22.3zM1134.7 812.9h22.3v22.3h-22.3zM1179.6 820.4h22.3v22.3h-22.3zM1179.6 835.3h22.3v22.3h-22.3zM1194.6 835.3h22.3v22.3h-22.3zM1194.6 846.6h22.3v22.3h-22.3zM1194.6 861.5h22.3v22.3h-22.3zM1205.8 876.5h22.3v22.3h-22.3zM1220.7 887.7h22.3v22.3h-22.3zM1228.2 887.7h22.3v22.3h-22.3zM1217.0 880.2h22.3v22.3h-22.3zM1220.7 861.5h22.3v22.3h-22.3zM1224.5 872.7h22.3v22.3h-22.3zM1239.4 872.7h22.3v22.3h-22.3zM1239.4 857.8h22.3v22.3h-22.3zM1231.9 865.3h22.3v22.3h-22.3zM1243.2 846.6h22.3v22.3h-22.3zM1254.4 861.5h22.3v22.3h-22.3zM1250.6 850.3h22.3v22.3h-22.3zM1254.4 842.8h22.3v22.3h-22.3zM1258.1 831.6h22.3v22.3h-22.3zM1261.9 839.1h22.3v22.3h-22.3zM1269.3 846.6h22.3v22.3h-22.3zM1269.3 831.6h22.3v22.3h-22.3zM1179.6 988.6h22.3v22.3h-22.3zM1190.8 988.6h22.3v22.3h-22.3zM1194.6 988.6h22.3v22.3h-22.3zM1190.8 973.7h22.3v22.3h-22.3zM1194.6 977.4h22.3v22.3h-22.3zM1205.8 977.4h22.3v22.3h-22.3zM1205.8 962.5h22.3v22.3h-22.3zM1217.0 962.5h22.3v22.3h-22.3zM1220.7 962.5h22.3v22.3h-22.3zM1217.0 951.3h22.3v22.3h-22.3zM1217.0 940.0h22.3v22.3h-22.3zM1224.5 940.0h22.3v22.3h-22.3zM1224.5 928.8h22.3v22.3h-22.3zM1228.2 928.8h22.3v22.3h-22.3zM1228.2 932.6h22.3v22.3h-22.3zM1366.5 790.5h22.3v22.3h-22.3zM1374.0 794.2h22.3v22.3h-22.3zM1374.0 805.4h22.3v22.3h-22.3zM1374.0 816.6h22.3v22.3h-22.3zM1389.0 805.4h22.3v22.3h-22.3zM1411.4 805.4h22.3v22.3h-22.3zM1418.9 805.4h22.3v22.3h-22.3zM1426.4 805.4h22.3v22.3h-22.3zM1422.6 816.6h22.3v22.3h-22.3zM1426.4 812.9h22.3v22.3h-22.3zM1426.4 827.9h22.3v22.3h-22.3zM1437.6 816.6h22.3v22.3h-22.3zM1433.8 824.1h22.3v22.3h-22.3zM1437.6 831.6h22.3v22.3h-22.3zM1441.3 842.8h22.3v22.3h-22.3zM1452.5 827.9h22.3v22.3h-22.3zM1448.8 835.3h22.3v22.3h-22.3zM1452.5 846.6h22.3v22.3h-22.3zM1467.5 842.8h22.3v22.3h-22.3zM1463.8 850.3h22.3v22.3h-22.3zM1467.5 857.8h22.3v22.3h-22.3zM1482.5 857.8h22.3v22.3h-22.3zM1482.5 872.7h22.3v22.3h-22.3zM1493.7 869.0h22.3v22.3h-22.3zM1493.7 876.5h22.3v22.3h-22.3zM1493.7 884.0h22.3v22.3h-22.3zM1430.1 820.4h22.3v22.3h-22.3zM1456.3 839.1h22.3v22.3h-22.3zM1475.0 854.0h22.3v22.3h-22.3zM1445.1 831.6h22.3v22.3h-22.3zM1489.9 678.3h22.3v22.3h-22.3zM1493.7 682.0h22.3v22.3h-22.3zM1501.2 689.5h22.3v22.3h-22.3zM1501.2 678.3h22.3v22.3h-22.3zM1493.7 921.3h22.3v22.3h-22.3zM1497.4 921.3h22.3v22.3h-22.3zM1493.7 928.8h22.3v22.3h-22.3zM1497.4 928.8h22.3v22.3h-22.3zM1411.4 1037.3h22.3v22.3h-22.3zM1415.2 1037.3h22.3v22.3h-22.3zM1426.4 1037.3h22.3v22.3h-22.3zM1370.3 1186.8h22.3v22.3h-22.3zM1374.0 1190.5h22.3v22.3h-22.3zM1381.5 1201.8h22.3v22.3h-22.3zM1437.6 1175.6h22.3v22.3h-22.3zM1445.1 1175.6h22.3v22.3h-22.3zM1452.5 1175.6h22.3v22.3h-22.3zM1463.8 1175.6h22.3v22.3h-22.3zM1452.5 1164.4h22.3v22.3h-22.3zM1456.3 1168.1h22.3v22.3h-22.3zM1460.0 1171.9h22.3v22.3h-22.3zM1463.8 1160.6h22.3v22.3h-22.3zM1467.5 1164.4h22.3v22.3h-22.3zM1471.2 1168.1h22.3v22.3h-22.3zM1482.5 1164.4h22.3v22.3h-22.3zM1478.7 1149.4h22.3v22.3h-22.3zM1475.0 1156.9h22.3v22.3h-22.3zM1486.2 1160.6h22.3v22.3h-22.3zM1482.5 1153.2h22.3v22.3h-22.3zM1489.9 1138.2h22.3v22.3h-22.3zM1489.9 1149.4h22.3v22.3h-22.3zM1493.7 1149.4h22.3v22.3h-22.3z"/>
</g>
<g fill="none" stroke="#ff0000" stroke-width="3.0" stroke-linejoin="round">
<path d="M491.6 182.3L506.6 208.3L476.5 208.3zM476.6 186.0L491.6 212.1L461.6 212.1zM476.6 197.3L491.6 223.3L461.6 223.3zM487.8 197.3L502.8 223.3L472.8 223.3zM461.6 212.2L476.7 238.2L446.6 238.2zM461.6 216.0L476.7 242.0L446.6 242.0zM461.6 227.2L476.7 253.2L446.6 253.2zM566.3 361.8L581.4 387.8L551.3 387.8zM708.4 436.6L723.4 462.6L693.4 462.6zM719.6 436.6L734.6 462.6L704.6 462.6zM693.5 451.5L708.5 477.5L678.4 477.5zM708.4 451.5L723.4 477.5L693.4 477.5zM693.5 462.7L708.5 488.7L678.4 488.7zM693.5 466.5L708.5 492.5L678.4 492.5zM678.5 477.7L693.5 503.7L663.5 503.7zM861.7 574.9L876.7 600.9L846.7 600.9zM861.7 578.6L876.7 604.7L846.7 604.7zM846.8 589.9L861.8 615.9L831.7 615.9zM846.8 593.6L861.8 619.6L831.7 619.6zM861.7 589.9L876.7 615.9L846.7 615.9zM843.0 604.8L858.0 630.8L828.0 630.8zM846.8 604.8L861.8 630.8L831.7 630.8zM1082.3 159.9L1097.3 185.9L1067.3 185.9zM1082.3 174.8L1097.3 200.8L1067.3 200.8zM1097.3 174.8L1112.3 200.8L1082.3 200.8zM1097.3 189.8L1112.3 215.8L1082.3 215.8zM1112.2 189.8L1127.2 215.8L1097.2 215.8zM1112.2 204.7L1127.2 230.8L1097.2 230.8zM1101.0 358.0L1116.0 384.1L1086.0 384.1zM1101.0 369.3L1116.0 395.3L1086.0 395.3zM1086.1 373.0L1101.1 399.0L1071.0 399.0zM1089.8 373.0L1104.8 399.0L1074.8 399.0zM1086.1 384.2L1101.1 410.2L1071.0 410.2zM1202.0 440.3L1217.0 466.3L1186.9 466.3zM1213.2 440.3L1228.2 466.3L1198.2 466.3zM1187.0 455.3L1202.0 481.3L1172.0 481.3zM1202.0 455.3L1217.0 481.3L1186.9 481.3zM1194.5 451.5L1209.5 477.5L1179.5 477.5zM1172.1 470.2L1187.1 496.2L1157.0 496.2zM1187.0 470.2L1202.0 496.2L1172.0 496.2zM1198.2 466.5L1213.2 492.5L1183.2 492.5zM1179.5 466.5L1194.5 492.5L1164.5 492.5zM1172.1 481.4L1187.1 507.4L1157.0 507.4zM1183.3 481.4L1198.3 507.4L1168.3 507.4zM1104.8 817.9L1119.8 843.9L1089.7 843.9zM1119.7 817.9L1134.7 843.9L1104.7 843.9zM1104.8 829.2L1119.8 855.2L1089.7 855.2zM1093.5 832.9L1108.5 858.9L1078.5 858.9zM1093.5 844.1L1108.5 870.1L1078.5 870.1zM1086.1 847.9L1101.1 873.9L1071.0 873.9zM1067.4 859.1L1082.4 885.1L1052.3 885.1zM1078.6 859.1L1093.6 885.1L1063.6 885.1zM1209.4 750.6L1224.5 776.6L1194.4 776.6zM1183.3 765.6L1198.3 791.6L1168.3 791.6zM1194.5 765.6L1209.5 791.6L1179.5 791.6zM1179.5 780.5L1194.5 806.6L1164.5 806.6zM1284.2 773.1L1299.2 799.1L1269.2 799.1zM1295.4 773.1L1310.5 799.1L1280.4 799.1zM1265.5 840.4L1280.5 866.4L1250.5 866.4zM1474.9 1154.4L1489.9 1180.5L1459.9 1180.5zM1463.7 1169.4L1478.7 1195.4L1448.7 1195.4zM1175.8 477.7L1190.8 503.7L1160.8 503.7zM1190.7 459.0L1205.8 485.0L1175.7 485.0zM1183.3 474.0L1198.3 500.0L1168.3 500.0zM1198.2 451.5L1213.2 477.5L1183.2 477.5z"/>
</g>
<rect x="120" y="30" width="1450" height="1450" fill="none" stroke="#000" stroke-width="3.5" stroke-linejoin="round"/>
<g stroke="#000" stroke-width="3.5" stroke-linecap="round"><line x1="170.0" y1="1480" x2="170.0" y2="1510" /><line x1="90" y1="80.0" x2="120" y2="80.0" /><line x1="356.9" y1="1480" x2="356.9" y2="1510" /><line x1="90" y1="266.9" x2="120" y2="266.9" /><line x1="543.9" y1="1480" x2="543.9" y2="1510" /><line x1="90" y1="453.9" x2="120" y2="453.9" /><line x1="730.9" y1="1480" x2="730.9" y2="1510" /><line x1="90" y1="640.9" x2="120" y2="640.9" /><line x1="917.8" y1="1480" x2="917.8" y2="1510" /><line x1="90" y1="827.8" x2="120" y2="827.8" /><line x1="1104.8" y1="1480" x2="1104.8" y2="1510" /><line x1="90" y1="1014.8" x2="120" y2="1014.8" /><line x1="1291.7" y1="1480" x2="1291.7" y2="1510" /><line x1="90" y1="1201.7" x2="120" y2="1201.7" /><line x1="1478.6" y1="1480" x2="1478.6" y2="1510" /><line x1="90" y1="1388.6" x2="120" y2="1388.6" /></g>
<g font-size="50" fill="#000"><text transform="translate(169.0,1589) scale(1,1.055)" text-anchor="middle">0</text><text transform="translate(355.9,1589) scale(1,1.055)" text-anchor="middle">50</text><text transform="translate(542.9,1589) scale(1,1.055)" text-anchor="middle">100</text><text transform="translate(729.9,1589) scale(1,1.055)" text-anchor="middle">150</text><text transform="translate(916.8,1589) scale(1,1.055)" text-anchor="middle">200</text><text transform="translate(1103.8,1589) scale(1,1.055)" text-anchor="middle">250</text><text transform="translate(1290.7,1589) scale(1,1.055)" text-anchor="middle">300</text><text transform="translate(1477.6,1589) scale(1,1.055)" text-anchor="middle">350</text><text transform="translate(49.5,81.5) rotate(-90) scale(1,1.055)" text-anchor="middle">0</text><text transform="translate(49.5,268.4) rotate(-90) scale(1,1.055)" text-anchor="middle">50</text><text transform="translate(49.5,455.4) rotate(-90) scale(1,1.055)" text-anchor="middle">100</text><text transform="translate(49.5,642.4) rotate(-90) scale(1,1.055)" text-anchor="middle">150</text><text transform="translate(49.5,829.3) rotate(-90) scale(1,1.055)" text-anchor="middle">200</text><text transform="translate(49.5,1016.2) rotate(-90) scale(1,1.055)" text-anchor="middle">250</text><text transform="translate(49.5,1203.2) rotate(-90) scale(1,1.055)" text-anchor="middle">300</text><text transform="translate(49.5,1390.1) rotate(-90) scale(1,1.055)" text-anchor="middle">350</text></g>
<path d="M1202.4 72.6L1217.4 98.6L1187.4 98.6z" fill="none" stroke="#ff0000" stroke-width="3.0" stroke-linejoin="round"/>
<rect x="1191.35" y="138.85" width="22.3" height="22.3" fill="none" stroke="#0000ff" stroke-width="3.0" stroke-linejoin="round"/>
<g font-size="50" fill="#000">
<text transform="translate(1248,108) scale(1,1.04)">DNCON2-RR</text>
<text transform="translate(1248,168) scale(1,1.04)">Model-RR</text>
</g>
<text transform="translate(200,1451) scale(0.973,1.01)" font-size="106" fill="#000">Top-L/5</text>
</svg>
</body></html>
